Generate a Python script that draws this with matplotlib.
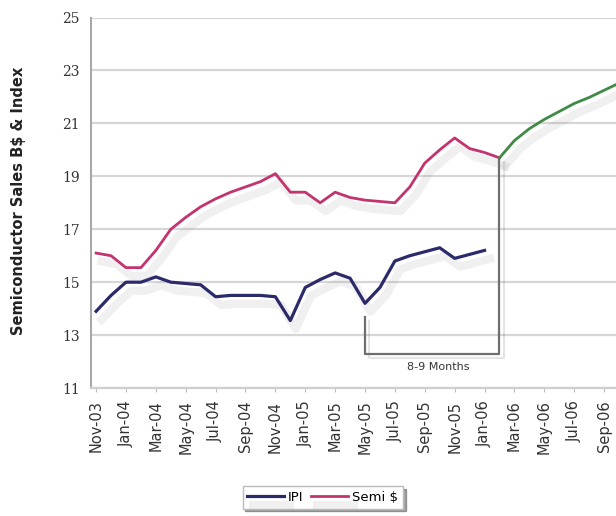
import numpy as np
import matplotlib
matplotlib.use("Agg")
import matplotlib.pyplot as plt
import matplotlib.patheffects as pe

# month labels every second month, Nov-03 .. Sep-06
tick_labels = ["Nov-03", "Jan-04", "Mar-04", "May-04", "Jul-04", "Sep-04",
               "Nov-04", "Jan-05", "Mar-05", "May-05", "Jul-05", "Sep-05",
               "Nov-05", "Jan-06", "Mar-06", "May-06", "Jul-06", "Sep-06"]

# monthly values starting Nov-03
ipi = [13.9, 14.5, 15.0, 15.0, 15.2, 15.0, 14.95, 14.9, 14.45, 14.5, 14.5,
       14.5, 14.45, 13.55, 14.8, 15.1, 15.35, 15.15, 14.2, 14.8, 15.8, 16.0,
       16.15, 16.3, 15.9, 16.05, 16.2]
semi = [16.1, 16.0, 15.55, 15.55, 16.2, 17.0, 17.45, 17.85, 18.15, 18.4,
        18.6, 18.8, 19.1, 18.4, 18.4, 18.0, 18.4, 18.2, 18.1, 18.05, 18.0,
        18.6, 19.5, 20.0, 20.45, 20.05, 19.9, 19.7]
# projected semi sales from Feb-06 on
semi_fcst = [19.7, 20.35, 20.8, 21.15, 21.45, 21.75, 21.98, 22.25, 22.52]

lead_from = 18   # May-05, IPI trough
lead_to = 27     # Feb-06, semi trough

navy = "#2b2a6b"
pink = "#c2336f"
green = "#3f8a45"

fig = plt.figure(figsize=(6.16, 5.16), dpi=100)
ax = fig.add_axes([0.148, 0.248, 0.852, 0.718])

shadow = [pe.SimpleLineShadow(offset=(4, -6), shadow_color="#909090", alpha=0.13, linewidth=6),
          pe.Normal()]

x_ipi = np.arange(len(ipi))
x_semi = np.arange(len(semi))
x_fc = np.arange(len(semi) - 1, len(semi) - 1 + len(semi_fcst))

l1, = ax.plot(x_ipi, ipi, color=navy, lw=2.3, label="IPI", path_effects=shadow, zorder=3)
l2, = ax.plot(x_semi, semi, color=pink, lw=2.0, label="Semi $", path_effects=shadow, zorder=3)
ax.plot(x_fc, semi_fcst, color=green, lw=2.0, path_effects=shadow, zorder=3)

# lead bracket
ybot = 12.28
ax.plot([lead_from, lead_from, lead_to, lead_to],
        [ipi[lead_from] - 0.5, ybot, ybot, semi[lead_to]],
        color="#6e6e6e", lw=1.6, zorder=2,
        path_effects=[pe.SimpleLineShadow(offset=(3, -3), alpha=0.1), pe.Normal()])
ax.text((lead_from + lead_to) / 2 + 0.4, 11.78, "8-9 Months", ha="center", va="center",
        fontsize=8, color="#333333")

ax.set_xlim(-0.33, 34.8)
ax.set_ylim(11, 25)
ax.set_yticks(np.arange(11, 26, 2))
ax.set_yticklabels([str(v) for v in range(11, 26, 2)], family="DejaVu Serif",
                   fontsize=10, color="#333333")
ax.set_xticks(np.arange(0, 2 * len(tick_labels), 2))
ax.set_xticklabels(tick_labels, rotation=90, fontsize=10.5, color="#333333")
ax.tick_params(axis="y", length=0, pad=8)
ax.tick_params(axis="x", length=3, color="#bbbbbb", pad=6)

ax.yaxis.grid(True, color="#d6d6d6", lw=1.6)
ax.set_axisbelow(True)
for s in ["top", "right"]:
    ax.spines[s].set_visible(False)
ax.spines["left"].set_color("#a8a8a8")
ax.spines["left"].set_linewidth(1.5)
ax.spines["bottom"].set_color("#cfcfcf")
ax.spines["bottom"].set_linewidth(1.6)

fig.text(0.03, 0.61, "Semiconductor Sales B$ & Index", rotation=90, ha="center",
         va="center", fontsize=10.5, fontweight="bold", color="#222222")

leg = fig.legend(handles=[l1, l2], loc="center", bbox_to_anchor=(0.524, 0.036),
                 ncol=2, fontsize=9.5, frameon=True, shadow=True, fancybox=False,
                 handlelength=2.8, handletextpad=0.3, columnspacing=0.6,
                 borderpad=0.35, edgecolor="#bbbbbb")

fig.savefig("out.png", dpi=100)
